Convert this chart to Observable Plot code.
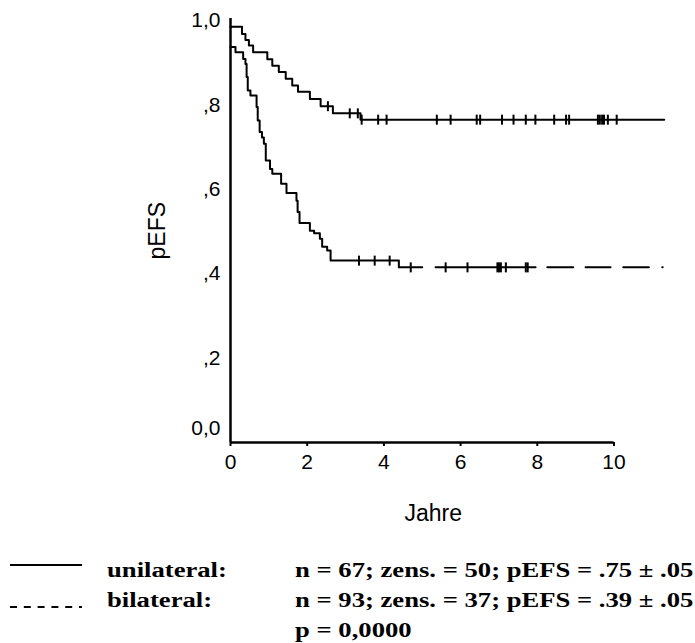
<!DOCTYPE html>
<html><head><meta charset="utf-8">
<script src="https://cdn.jsdelivr.net/npm/d3@7"></script>
<script src="https://cdn.jsdelivr.net/npm/@observablehq/plot@0.6"></script>
<style>
html,body{margin:0;padding:0;background:#fff;}
#wrap{position:relative;width:695px;height:643px;overflow:hidden;}
#wrap svg{display:block;}
#legend{position:absolute;left:0;top:540px;}
</style></head><body><div id="wrap"></div>
<script>
// Unilateral group: event times (years) and survival after each step
const uniTimes = [0, 0.30, 0.39, 0.48, 0.59, 0.96, 1.09, 1.26, 1.44, 1.61, 1.76, 2.07, 2.35, 2.67, 3.39];
const uniSurv  = [0.985, 0.968, 0.954, 0.941, 0.925, 0.908, 0.893, 0.878, 0.862, 0.846, 0.831, 0.814, 0.797, 0.780, 0.765];
const uniCensor = [2.54, 3.11, 3.32, 3.42, 3.85, 4.07, 5.38, 5.74, 6.42, 6.51, 7.08, 7.38, 7.70, 7.95, 8.44, 8.75, 8.83, 9.58, 9.63, 9.69, 9.74, 9.84, 10.07];
const uniEnd = 11.31;

// Bilateral group
const biTimes = [0, 0.13, 0.33, 0.39, 0.42, 0.45, 0.52, 0.68, 0.71, 0.76, 0.82, 0.87, 0.92, 1.03, 1.09, 1.32, 1.46, 1.72, 1.75, 1.80, 2.07, 2.18, 2.33, 2.39, 2.52, 2.61, 4.39];
const biSurv  = [0.937, 0.925, 0.909, 0.897, 0.866, 0.834, 0.822, 0.795, 0.763, 0.736, 0.723, 0.708, 0.668, 0.648, 0.637, 0.613, 0.591, 0.573, 0.546, 0.520, 0.502, 0.496, 0.483, 0.464, 0.455, 0.431, 0.415];
const biCensor = [3.35, 3.76, 4.15, 4.70, 5.61, 6.18, 6.96, 7.00, 7.05, 7.18, 7.70, 7.75];
const biEnd = 11.27;

// Axes
const xTicks = [0, 2, 4, 6, 8, 10];
const yTicks = [0, 0.2, 0.4, 0.6, 0.8, 1.0];
const yTickLabels = ["0,0", ",2", ",4", ",6", ",8", "1,0"];
const xLabel = "Jahre";
const yLabel = "pEFS";

// Legend texts
const legendNames = ["unilateral:", "bilateral:"];
const legendStats = ["n = 67; zens. = 50; pEFS = .75 \u00b1 .05", "n = 93; zens. = 37; pEFS = .39 \u00b1 .05"];
const pText = "p = 0,0000";

function stepAt(times, surv, t) {
  let s = surv[0];
  for (let i = 0; i < times.length; i++) if (times[i] <= t) s = surv[i];
  return s;
}
const uniLine = uniTimes.map((t, i) => ({t, s: uniSurv[i]})).concat([{t: uniEnd, s: uniSurv[uniSurv.length - 1]}]);
const biLine = biTimes.map((t, i) => ({t, s: biSurv[i]}));
const biTail = [{t: biTimes[biTimes.length - 1], s: biSurv[biSurv.length - 1]}, {t: biEnd, s: biSurv[biSurv.length - 1]}];
const uniC = uniCensor.map(t => ({t, s: stepAt(uniTimes, uniSurv, t)}));
const biC = biCensor.map(t => ({t, s: stepAt(biTimes, biSurv, t)}));

const vbar = {draw(ctx, size) { const h = Math.sqrt(size / Math.PI); ctx.moveTo(0, -h); ctx.lineTo(0, h); }};
const yLab = yTicks.map((v, i) => ({v, label: yTickLabels[i]}));

const chart = Plot.plot({
  width: 695, height: 540,
  marginLeft: 230, marginRight: 81.5, marginTop: 20, marginBottom: 98,
  style: {fontFamily: "Arial, 'Liberation Sans', sans-serif", fontSize: "21px", color: "black", background: "white"},
  x: {domain: [0, 10]},
  y: {domain: [0, 1], axis: null},
  marks: [
    Plot.axisX(xTicks, {tickSize: 4, tickPadding: 8, fontSize: 21, strokeWidth: 2, label: null}),
    Plot.ruleY([0], {x1: 0, x2: 10, strokeWidth: 2.5}),
    Plot.ruleX([0], {y1: 0, y2: 1.005, strokeWidth: 2.5}),
    Plot.text(yLab.filter(d => d.v > 0), {x: 0, y: "v", text: "label", textAnchor: "end", dx: -10, fontSize: 21}),
    Plot.text(yLab.filter(d => d.v === 0), {x: 0, y: "v", text: "label", textAnchor: "end", dx: -10, dy: -14, fontSize: 21}),
    Plot.text([yLabel], {frameAnchor: "left", rotate: -90, dx: -73, dy: 28, fontSize: 23}),
    Plot.text([xLabel], {frameAnchor: "bottom", dx: 11, dy: 78, fontSize: 23}),
    Plot.line(uniLine, {x: "t", y: "s", curve: "step-after", stroke: "black", strokeWidth: 2}),
    Plot.line(biLine, {x: "t", y: "s", curve: "step-after", stroke: "black", strokeWidth: 2}),
    Plot.line(biTail, {x: "t", y: "s", stroke: "black", strokeWidth: 2, strokeDasharray: "23.4 13.3 100 11.7 26 12.3 25 12.7 25.6 13.4 3 60"}),
    Plot.dot(uniC, {x: "t", y: "s", symbol: vbar, r: 5, stroke: "black", fill: "none", strokeWidth: 2}),
    Plot.dot(biC, {x: "t", y: "s", symbol: vbar, r: 5, stroke: "black", fill: "none", strokeWidth: 2})
  ]
});
const wrap = document.getElementById("wrap");
wrap.appendChild(chart);

// Legend below the chart
const lg = d3.select(wrap).append("svg").attr("id", "legend").attr("width", 695).attr("height", 103);
lg.append("line").attr("x1", 10).attr("x2", 82).attr("y1", 25).attr("y2", 25).attr("stroke", "black").attr("stroke-width", 2);
lg.append("line").attr("x1", 10).attr("x2", 82).attr("y1", 67).attr("y2", 67).attr("stroke", "black").attr("stroke-width", 2).attr("stroke-dasharray", "7 6.8");
const tf = "'Times New Roman', 'Liberation Serif', serif";
const rows = [37, 67];
rows.forEach((y, i) => {
  lg.append("text").attr("transform", `translate(107,${y}) scale(1.24,1)`).attr("font-family", tf).attr("font-weight", "bold").attr("font-size", 21.5).text(legendNames[i]);
  lg.append("text").attr("transform", `translate(295,${y}) scale(1.24,1)`).attr("font-family", tf).attr("font-weight", "bold").attr("font-size", 21.5).text(legendStats[i]);
});
lg.append("text").attr("transform", `translate(295,97) scale(1.24,1)`).attr("font-family", tf).attr("font-weight", "bold").attr("font-size", 21.5).text(pText);
</script></body></html>
